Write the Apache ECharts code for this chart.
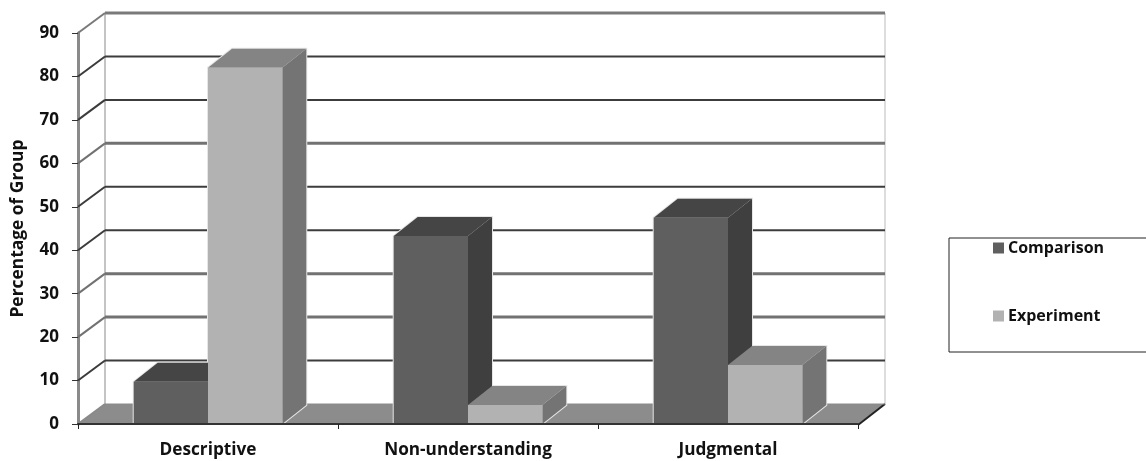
<!DOCTYPE html>
<html>
<head>
<meta charset="utf-8">
<style>html,body{margin:0;padding:0;background:#fff}#chart{width:1146px;height:461px}</style>
<script src="https://cdn.jsdelivr.net/npm/echarts@6/dist/echarts.min.js"></script>
</head>
<body>
<div id="chart"></div>
<script>
// Share of each group per response type
const categories = ['Descriptive', 'Non-understanding', 'Judgmental'];
const comparison = [9.7, 43.3, 47.5];
const experiment = [82.0, 4.4, 13.6];
const valueTicks = [0, 10, 20, 30, 40, 50, 60, 70, 80, 90];

// Shade and weight of each wall rule, bottom to top
const ruleShades = ['#8a8a8a', '#3c3c3c', '#727272', '#727272', '#3c3c3c', '#3c3c3c', '#727272', '#3c3c3c', '#3c3c3c', '#7a7a7a'];
const ruleWidths = [1, 2, 3, 3, 2, 2, 3, 2, 2, 3];

// Oblique projection offsets for the box and for the columns inside it
const WALL_DX = 27, WALL_DY = -20;
const BAR_DX = 24, BAR_DY = -19;

const FONT = '"Open Sans", Lato, sans-serif';

function wallRules(params, api) {
  const cs = params.coordSys;
  const y = api.coord([0, api.value(0)])[1];
  const i = params.dataIndex;
  const common = { stroke: ruleShades[i], lineWidth: ruleWidths[i] };
  const slant = { stroke: ruleShades[i], lineWidth: 2 };
  return {
    type: 'group',
    children: [
      { type: 'line', shape: { x1: cs.x, y1: y, x2: cs.x + WALL_DX, y2: y + WALL_DY }, style: slant },
      { type: 'line', shape: { x1: cs.x + WALL_DX, y1: y + WALL_DY, x2: cs.x + cs.width + WALL_DX, y2: y + WALL_DY }, style: common }
    ]
  };
}

function wallFrame(params, api) {
  const cs = params.coordSys;
  const left = cs.x, right = cs.x + cs.width, top = cs.y, base = cs.y + cs.height;
  const edge = (x1, y1, x2, y2, stroke, lineWidth) => ({ type: 'line', shape: { x1, y1, x2, y2 }, style: { stroke, lineWidth } });
  return {
    type: 'group',
    children: [
      edge(left + WALL_DX, top + WALL_DY, left + WALL_DX, base + WALL_DY, '#c4c4c4', 2),
      edge(right + WALL_DX, top + WALL_DY, right + WALL_DX, base + WALL_DY, '#dddddd', 2),
      {
        type: 'polygon',
        shape: { points: [[left, base], [right, base], [right + WALL_DX, base + WALL_DY], [left + WALL_DX, base + WALL_DY]] },
        style: { fill: '#8c8c8c' }
      },
      edge(right, base + 1, right + WALL_DX, base + WALL_DY, '#222222', 2)
    ]
  };
}

// Screen geometry of a column, taken from the value and category scales
function columnBox(slot, api) {
  const mid = api.coord([api.value(0), 0])[0];
  const width = api.size([1, 0])[0] / 3.5;
  const x0 = mid + slot * width;
  return {
    x0, width, x1: x0 + width,
    yTop: api.coord([api.value(0), api.value(1)])[1],
    yBase: api.coord([api.value(0), 0])[1]
  };
}

// Pale rim round a column's silhouette, laid under all the faces
function columnRim(slot) {
  return function (params, api) {
    const b = columnBox(slot, api);
    return {
      type: 'polygon',
      shape: {
        points: [[b.x0, b.yBase], [b.x0, b.yTop], [b.x0 + BAR_DX, b.yTop + BAR_DY], [b.x1 + BAR_DX, b.yTop + BAR_DY], [b.x1 + BAR_DX, b.yBase + BAR_DY], [b.x1, b.yBase]]
      },
      style: { fill: '#e6e6e6', stroke: '#e6e6e6', lineWidth: 2 }
    };
  };
}

// Right side, top and front faces of a column
function column(slot, top, side) {
  return function (params, api) {
    const b = columnBox(slot, api);
    const backX = b.x1 + BAR_DX, backTop = b.yTop + BAR_DY;
    return {
      type: 'group',
      children: [
        { type: 'polygon', shape: { points: [[b.x1, b.yTop], [backX, backTop], [backX, b.yBase + BAR_DY], [b.x1, b.yBase]] }, style: { fill: side } },
        { type: 'polygon', shape: { points: [[b.x0, b.yTop], [b.x1, b.yTop], [backX, backTop], [b.x0 + BAR_DX, backTop]] }, style: { fill: top } },
        { type: 'rect', shape: { x: b.x0, y: b.yTop, width: b.width, height: b.yBase - b.yTop }, style: { fill: api.visual('color') } }
      ]
    };
  };
}

const comparisonData = comparison.map((v, i) => [i, v]);
const experimentData = experiment.map((v, i) => [i, v]);

const chart = echarts.init(document.getElementById('chart'), null, { renderer: 'canvas' });
chart.setOption({
  animation: false,
  backgroundColor: '#ffffff',
  textStyle: { fontFamily: FONT },
  grid: { left: 78, top: 33, width: 780, height: 391 },
  legend: {
    data: ['Comparison', 'Experiment'],
    orient: 'vertical',
    left: 949,
    top: 238,
    padding: [2, 60, 28, 44],
    itemGap: 52,
    itemWidth: 11,
    itemHeight: 11,
    icon: 'rect',
    borderColor: '#222222',
    borderWidth: 1,
    textStyle: { fontFamily: FONT, fontWeight: 'bold', fontSize: 16, color: '#111111', padding: [0, 0, 0, -1] }
  },
  xAxis: {
    type: 'category',
    data: categories,
    z: 6,
    axisLine: { show: true, lineStyle: { color: '#333333', width: 2 } },
    axisTick: { show: true, length: 5, lineStyle: { color: '#222222', width: 1 } },
    axisLabel: { fontFamily: FONT, fontWeight: 'bold', fontSize: 17.2, color: '#111111', margin: 18 }
  },
  yAxis: {
    type: 'value',
    min: 0,
    max: 90,
    interval: 10,
    name: 'Percentage of Group',
    nameLocation: 'middle',
    nameRotate: 90,
    nameGap: 51,
    nameTextStyle: { fontFamily: FONT, fontWeight: 'bold', fontSize: 17.4, color: '#111111' },
    splitLine: { show: false },
    axisLine: { show: true, lineStyle: { color: '#8a8a8a', width: 3 } },
    axisTick: { show: true, length: 6, lineStyle: { color: '#333333', width: 1 } },
    axisLabel: { fontFamily: FONT, fontWeight: 'bold', fontSize: 17, color: '#111111', margin: 19, padding: [5, 0, 0, 0] }
  },
  series: [
    { type: 'custom', name: 'frame', z: 1, silent: true, data: [[0, 0]], renderItem: wallFrame },
    { type: 'custom', name: 'rules', z: 1, silent: true, encode: { y: 0 }, data: valueTicks.map(v => [v]), renderItem: wallRules },
    { type: 'custom', name: 'rimA', z: 2, silent: true, encode: { x: 0, y: 1 }, data: comparisonData, renderItem: columnRim(-1) },
    { type: 'custom', name: 'rimB', z: 2, silent: true, encode: { x: 0, y: 1 }, data: experimentData, renderItem: columnRim(0) },
    {
      type: 'custom', name: 'Comparison', z: 3,
      itemStyle: { color: '#5f5f5f' },
      encode: { x: 0, y: 1 },
      data: comparisonData,
      renderItem: column(-1, '#454545', '#3f3f3f')
    },
    {
      type: 'custom', name: 'Experiment', z: 4,
      itemStyle: { color: '#b2b2b2' },
      encode: { x: 0, y: 1 },
      data: experimentData,
      renderItem: column(0, '#848484', '#747474')
    }
  ]
});
</script>
</body>
</html>
